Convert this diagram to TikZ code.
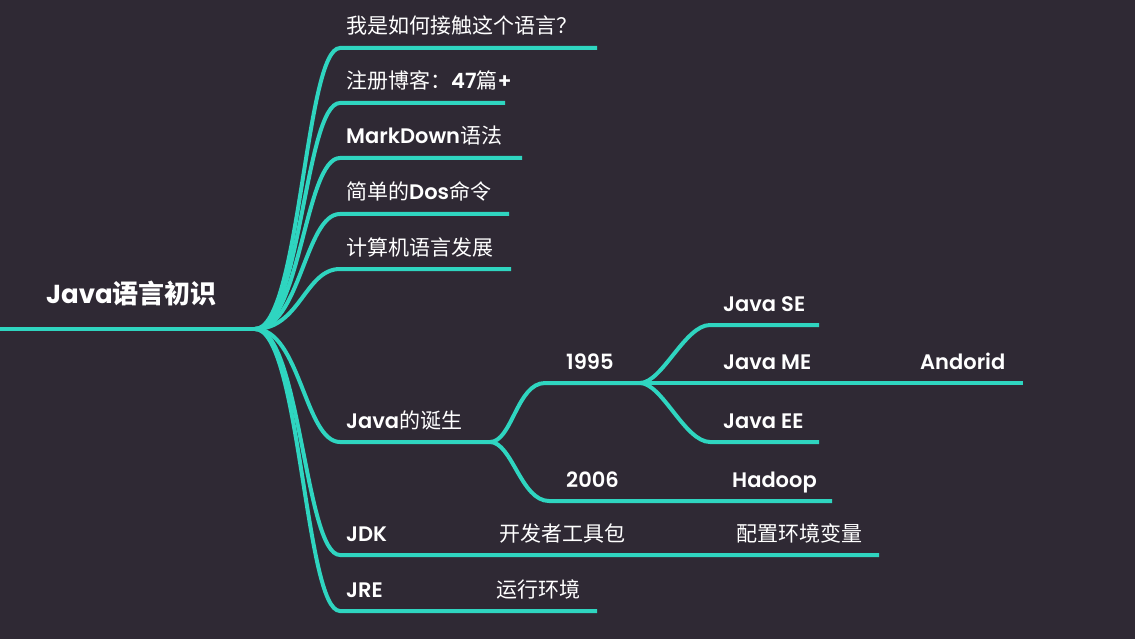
\documentclass[tikz,border=0pt]{standalone}
\usepackage{fontspec}
\newfontfamily\lat{Poppins}[UprightFont=* SemiBold, BoldFont=* Bold]
\newfontfamily\cjk{Noto Sans CJK SC}
\newcommand\zh[1]{{\cjk #1}}
\definecolor{bgc}{HTML}{2F2934}
\definecolor{brch}{HTML}{2FD5C0}
\tikzset{
  br/.style={draw=brch, line width=4pt},
  lbl/.style={anchor=base west, inner sep=0pt, text=white, font=\lat\fontsize{21}{24}\selectfont},
  ttl/.style={anchor=base west, inner sep=0pt, text=white, font=\lat\bfseries\fontsize{26}{30}\selectfont}
}
\begin{document}
\begin{tikzpicture}[x=1pt,y=-1pt]
\fill[bgc] (0,0) rectangle (1135,639);
\useasboundingbox (0,0) rectangle (1135,639);
% coordinates
\coordinate (R0) at (0,329);
\coordinate (J) at (255,329);
\coordinate (c1) at (340,48);  \coordinate (e1) at (597,48);
\coordinate (c2) at (340,103); \coordinate (e2) at (505,103);
\coordinate (c3) at (340,158); \coordinate (e3) at (522,158);
\coordinate (c4) at (340,214); \coordinate (e4) at (509,214);
\coordinate (c5) at (340,269); \coordinate (e5) at (511,269);
\coordinate (c6) at (340,442); \coordinate (J2) at (490,442);
\coordinate (c7) at (340,555); \coordinate (e7) at (879,555);
\coordinate (c8) at (340,611); \coordinate (e8) at (597,611);
\coordinate (d1) at (545,383); \coordinate (J3) at (640,383);
\coordinate (d2) at (549,501); \coordinate (f2) at (832,501);
\coordinate (g1) at (710,325); \coordinate (h1) at (819,325);
\coordinate (h2) at (1023,383);
\coordinate (g3) at (710,442); \coordinate (h3) at (819,442);
% connectors
\draw[br] (R0) -- (J);
\foreach \i/\e in {1/e1,2/e2,3/e3,4/e4,5/e5,6/J2,7/e7,8/e8}{
  \draw[br] (J) .. controls +(45,0) and +(-35,0) .. (c\i) -- (\e);
}
\draw[br] (J2) .. controls +(22,0) and +(-28,0) .. (d1) -- (J3);
\draw[br] (J2) .. controls +(22,0) and +(-28,0) .. (d2) -- (f2);
\draw[br] (J3) .. controls +(22,0) and +(-25,0) .. (g1) -- (h1);
\draw[br] (J3) -- (h2);
\draw[br] (J3) .. controls +(22,0) and +(-25,0) .. (g3) -- (h3);
% labels
\node[ttl] (title) at (46,303) {Java\zh{语言初识}};
\node[lbl] (t1) at (346,34) {\zh{我是如何接触这个语言？}};
\node[lbl] (t2) at (346,89) {\zh{注册博客：}47\zh{篇}+};
\node[lbl] (t3) at (346,144) {MarkDown\zh{语法}};
\node[lbl] (t4) at (346,200) {\zh{简单的}Dos\zh{命令}};
\node[lbl] (t5) at (346,255) {\zh{计算机语言发展}};
\node[lbl] (t6) at (346,428) {Java\zh{的诞生}};
\node[lbl] (y1) at (566,369) {1995};
\node[lbl] (y2) at (566,487) {2006};
\node[lbl] (se) at (723,311) {Java SE};
\node[lbl] (me) at (723,369) {Java ME};
\node[lbl] (and) at (920,369) {Andorid};
\node[lbl] (ee) at (723,428) {Java EE};
\node[lbl] (had) at (732,487) {Hadoop};
\node[lbl] (jdk) at (346,541) {JDK};
\node[lbl] (kf) at (499,541) {\zh{开发者工具包}};
\node[lbl] (pz) at (736,541) {\zh{配置环境变量}};
\node[lbl] (jre) at (346,597) {JRE};
\node[lbl] (yx) at (496,597) {\zh{运行环境}};
\end{tikzpicture}
\end{document}
